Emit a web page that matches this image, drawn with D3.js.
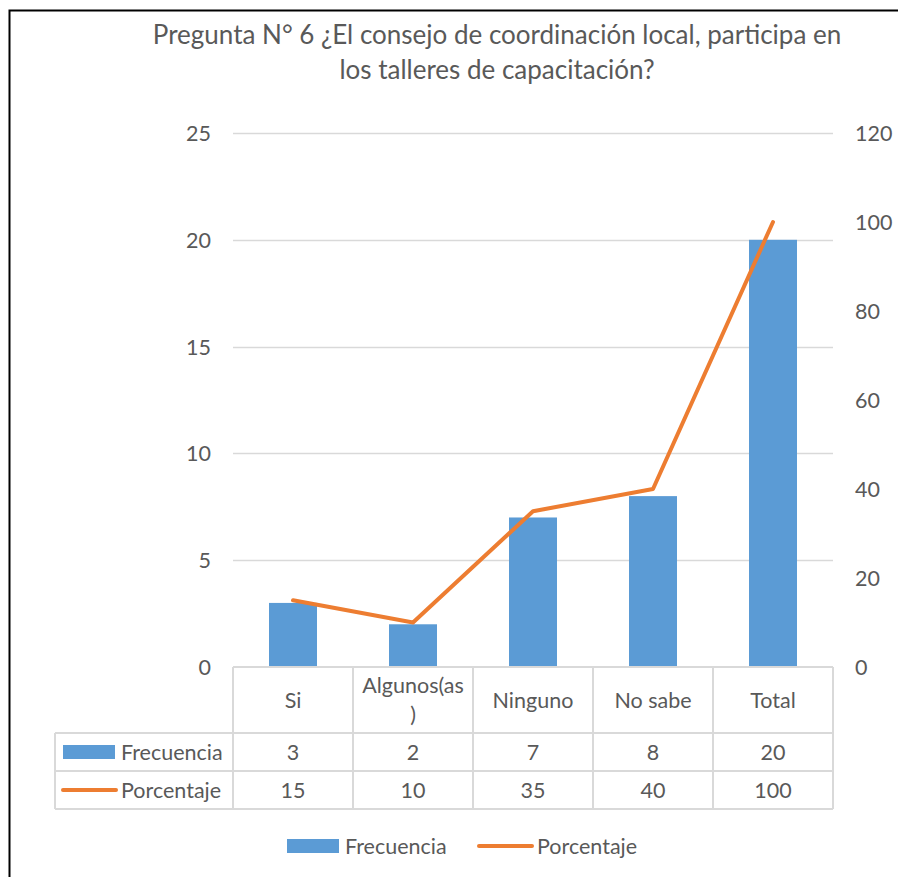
<!DOCTYPE html>
<html><head><meta charset="utf-8">
<script src="https://cdn.jsdelivr.net/npm/d3@7/dist/d3.min.js"></script>
<style>body{margin:0;background:#fff}svg{display:block}text{font-family:Lato,"Open Sans",sans-serif;fill:#595959}</style>
</head><body>
<script>
const categories = ["Si", "Algunos(as\n)", "Ninguno", "No sabe", "Total"];
const frecuencia = [3, 2, 7, 8, 20];
const porcentaje = [15, 10, 35, 40, 100];
const leftTicks = [0, 5, 10, 15, 20, 25];
const rightTicks = [0, 20, 40, 60, 80, 100, 120];
const titleLines = ["Pregunta N° 6 ¿El consejo de coordinación local, participa en", "los talleres de capacitación?"];

const W = 898, H = 877;
const FS = "21.5px";
const svg = d3.select("body").append("svg").attr("width", W).attr("height", H);
const x0 = 233, x1 = 833, yTop = 133, yBot = 667;
const x = d3.scaleBand().domain(categories).range([x0, x1]);
const yL = d3.scaleLinear().domain([0, 25]).range([yBot, yTop]);
const yR = d3.scaleLinear().domain([0, 120]).range([yBot, yTop]);
const blue = "#5B9BD5", orange = "#ED7D31", grid = "#d9d9d9";

// frame
svg.append("path").attr("d", `M9.5,${H} L9.5,10.5 L${W},10.5`).attr("fill", "none").attr("stroke", "#000").attr("stroke-width", 2);

// title
svg.append("g").selectAll("text").data(titleLines).join("text")
  .attr("x", 497).attr("y", (d, i) => 35 + i * 35).attr("dy", "0.35em").attr("text-anchor", "middle")
  .style("font-size", "26px").text(d => d);

// gridlines
svg.append("g").selectAll("line").data(leftTicks.filter(d => d > 0)).join("line")
  .attr("x1", x0).attr("x2", x1).attr("y1", d => Math.round(yL(d)) + 0.5).attr("y2", d => Math.round(yL(d)) + 0.5)
  .attr("stroke", grid).attr("stroke-width", 1.3);

// left axis
const axL = d3.axisLeft(yL).tickValues(leftTicks).tickSize(0).tickPadding(0);
const gL = svg.append("g").attr("transform", "translate(211,0)").call(axL);
gL.select(".domain").remove();
gL.selectAll("text").style("font-size", FS).attr("fill", "#595959").attr("font-family", "Lato").attr("dy", "0.35em");

// right axis
const axR = d3.axisRight(yR).tickValues(rightTicks).tickSize(0).tickPadding(0);
const gR = svg.append("g").attr("transform", "translate(855,0)").call(axR);
gR.select(".domain").remove();
gR.selectAll("text").style("font-size", FS).attr("fill", "#595959").attr("font-family", "Lato").attr("dy", "0.35em");

// bars
const bw = 48;
svg.append("g").selectAll("rect").data(frecuencia).join("rect")
  .attr("x", (d, i) => x(categories[i]) + x.bandwidth() / 2 - bw / 2)
  .attr("width", bw)
  .attr("y", d => yL(d)).attr("height", d => yBot - yL(d))
  .attr("fill", blue);

// line
const line = d3.line().x((d, i) => x(categories[i]) + x.bandwidth() / 2).y(d => yR(d));
svg.append("path").datum(porcentaje).attr("d", line).attr("fill", "none")
  .attr("stroke", orange).attr("stroke-width", 4).attr("stroke-linejoin", "round").attr("stroke-linecap", "round");

// data table
const tb = svg.append("g");
const rowY = [667, 733, 771, 809];
const tx0 = 55;
const tl = (a, b, c, d) => tb.append("line").attr("x1", a).attr("y1", b).attr("x2", c).attr("y2", d).attr("stroke", grid).attr("stroke-width", 2);
tl(x0, rowY[0], x1, rowY[0]);
tl(tx0, rowY[1], x1, rowY[1]);
tl(tx0, rowY[2], x1, rowY[2]);
tl(tx0, rowY[3], x1, rowY[3]);
tl(tx0, rowY[1], tx0, rowY[3]);
categories.forEach((c, i) => tl(x(c), rowY[0], x(c), rowY[3]));
tl(x1, rowY[0], x1, rowY[3]);

categories.forEach((c, i) => {
  const parts = c.split("\n");
  const cx = x(c) + x.bandwidth() / 2;
  const cy = (rowY[0] + rowY[1]) / 2;
  parts.forEach((p, j) => {
    tb.append("text").attr("x", cx).attr("y", cy + (j - (parts.length - 1) / 2) * 29).attr("dy", "0.35em")
      .attr("text-anchor", "middle").style("font-size", FS).text(p);
  });
  tb.append("text").attr("x", cx).attr("y", (rowY[1] + rowY[2]) / 2).attr("dy", "0.35em")
    .attr("text-anchor", "middle").style("font-size", FS).text(frecuencia[i]);
  tb.append("text").attr("x", cx).attr("y", (rowY[2] + rowY[3]) / 2).attr("dy", "0.35em")
    .attr("text-anchor", "middle").style("font-size", FS).text(porcentaje[i]);
});
// row legend keys
const ry1 = (rowY[1] + rowY[2]) / 2, ry2 = (rowY[2] + rowY[3]) / 2;
tb.append("rect").attr("x", 63).attr("y", ry1 - 7).attr("width", 52).attr("height", 14).attr("fill", blue);
tb.append("text").attr("x", 121).attr("y", ry1).attr("dy", "0.35em").style("font-size", FS).text("Frecuencia");
tb.append("line").attr("x1", 63).attr("x2", 116).attr("y1", ry2).attr("y2", ry2).attr("stroke", orange).attr("stroke-width", 4).attr("stroke-linecap", "round");
tb.append("text").attr("x", 121).attr("y", ry2).attr("dy", "0.35em").style("font-size", FS).text("Porcentaje");

// bottom legend
const lg = svg.append("g");
const ly = 846;
lg.append("rect").attr("x", 287).attr("y", ly - 7).attr("width", 52).attr("height", 14).attr("fill", blue);
lg.append("text").attr("x", 345).attr("y", ly).attr("dy", "0.35em").style("font-size", FS).text("Frecuencia");
lg.append("line").attr("x1", 479).attr("x2", 532).attr("y1", ly).attr("y2", ly).attr("stroke", orange).attr("stroke-width", 4).attr("stroke-linecap", "round");
lg.append("text").attr("x", 537).attr("y", ly).attr("dy", "0.35em").style("font-size", FS).text("Porcentaje");
</script>
</body></html>
